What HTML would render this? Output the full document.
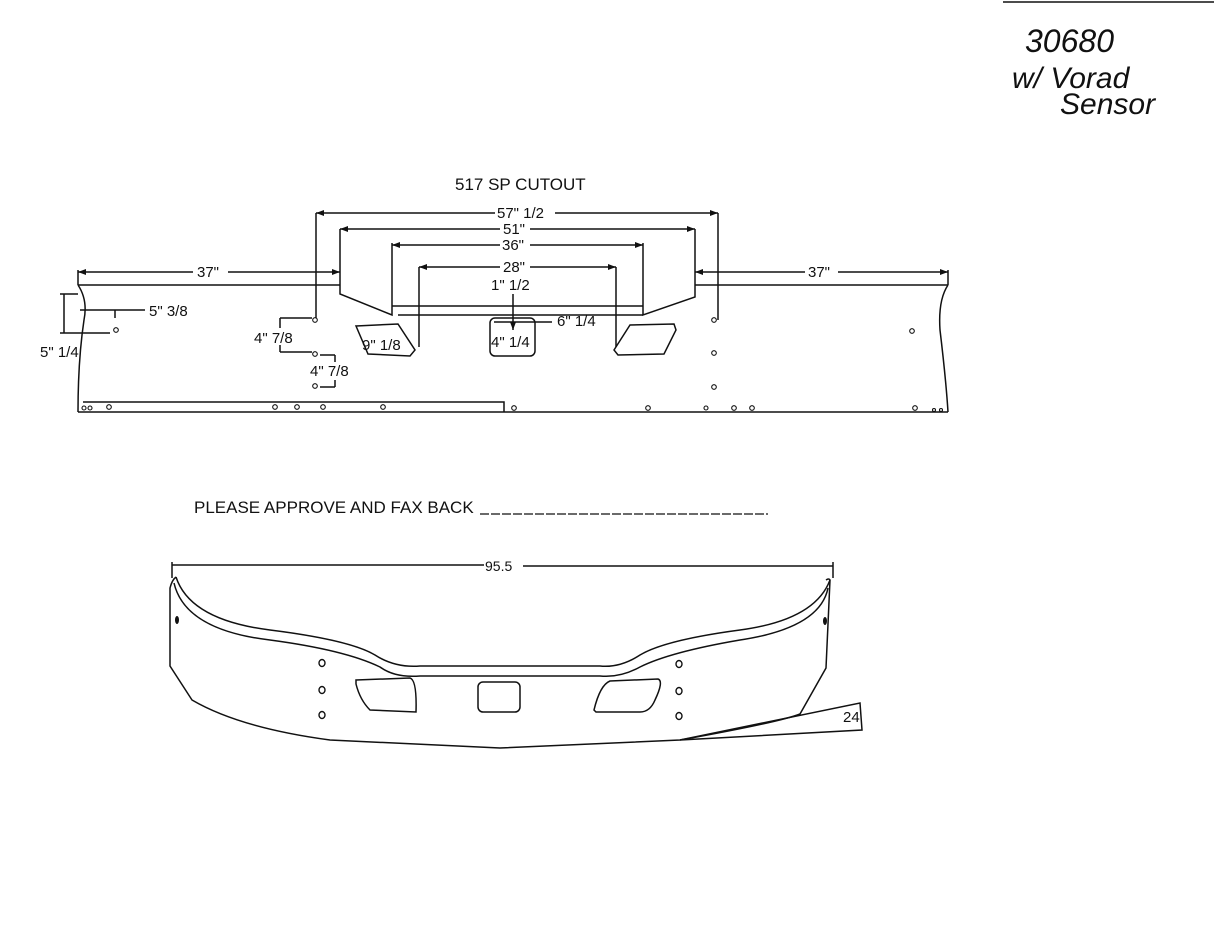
<!DOCTYPE html>
<html><head><meta charset="utf-8"><style>
body{margin:0;background:#fff;}
svg{display:block}
text{font-family:"Liberation Sans",sans-serif;fill:#111}
</style></head><body>
<svg width="1214" height="933" viewBox="0 0 1214 933" xmlns="http://www.w3.org/2000/svg">
<rect width="1214" height="933" fill="#fff"/>
<g stroke="#111" stroke-width="1.4" fill="none">
<line x1="1003" y1="2" x2="1214" y2="2"/>
</g>
<g font-family="Liberation Serif,serif" font-style="italic" font-size="30" fill="#222">
<text x="1025" y="52" style="font-size:32px">30680</text>
<text x="1012" y="88">w/ Vorad</text>
<text x="1060" y="114">Sensor</text>
</g>
<text x="455" y="190" font-size="17">517 SP CUTOUT</text>
<g stroke="#111" stroke-width="1.5" fill="none">
<polyline points="78,285 340,285"/>
<polyline points="695,285 948,285"/>
<polyline points="340,229 340,294 392,315 392,243"/>
<polyline points="643,243 643,315 695,297 695,229"/>
<line x1="392" y1="306" x2="643" y2="306"/>
<line x1="398" y1="315" x2="643" y2="315"/>
<path d="M78,285 Q88,300 84,320 Q78,360 78,412"/>
<path d="M948,285 Q938,300 940,330 Q946,380 948,412"/>
<line x1="78" y1="412" x2="948" y2="412"/>
<polyline points="83,402 504,402 504,412"/>
<line x1="316" y1="213" x2="316" y2="320"/>
<line x1="718" y1="213" x2="718" y2="320"/>
<line x1="419" y1="267" x2="419" y2="347"/>
<line x1="616" y1="267" x2="616" y2="347"/>
<line x1="316" y1="213" x2="495" y2="213"/><line x1="555" y1="213" x2="718" y2="213"/>
<line x1="340" y1="229" x2="500" y2="229"/><line x1="530" y1="229" x2="695" y2="229"/>
<line x1="392" y1="245" x2="500" y2="245"/><line x1="530" y1="245" x2="643" y2="245"/>
<line x1="419" y1="267" x2="500" y2="267"/><line x1="530" y1="267" x2="616" y2="267"/>
<line x1="78" y1="272" x2="193" y2="272"/><line x1="228" y1="272" x2="340" y2="272"/>
<line x1="695" y1="272" x2="805" y2="272"/><line x1="838" y1="272" x2="948" y2="272"/>
<line x1="78" y1="270" x2="78" y2="285"/><line x1="948" y1="270" x2="948" y2="285"/>
<line x1="64" y1="294" x2="64" y2="333"/><line x1="60" y1="294" x2="78" y2="294"/>
<line x1="60" y1="333" x2="110" y2="333"/>
<line x1="80" y1="310" x2="145" y2="310"/><line x1="115" y1="310" x2="115" y2="318"/>
<line x1="513" y1="294" x2="513" y2="330"/>
<line x1="494" y1="322" x2="552" y2="322"/>
<line x1="280" y1="318" x2="312" y2="318"/><line x1="280" y1="318" x2="280" y2="328"/>
<line x1="280" y1="352" x2="312" y2="352"/><line x1="280" y1="345" x2="280" y2="352"/>
<line x1="320" y1="355" x2="335" y2="355"/><line x1="335" y1="355" x2="335" y2="362"/>
<line x1="320" y1="387" x2="335" y2="387"/><line x1="335" y1="380" x2="335" y2="387"/>
<path d="M356,326 L398,324 L415,350 L410,356 L368,354 Z"/>
<rect x="490" y="318" width="45" height="38" rx="5"/>
<path d="M614,350 L630,325 L674,324 L676,330 L664,354 L618,355 Z"/>
</g>
<g fill="#111">
<polygon points="78,272 86,269 86,275"/><polygon points="340,272 332,269 332,275"/>
<polygon points="695,272 703,269 703,275"/><polygon points="948,272 940,269 940,275"/>
<polygon points="316,213 324,210 324,216"/><polygon points="718,213 710,210 710,216"/>
<polygon points="340,229 348,226 348,232"/><polygon points="695,229 687,226 687,232"/>
<polygon points="392,245 400,242 400,248"/><polygon points="643,245 635,242 635,248"/>
<polygon points="419,267 427,264 427,270"/><polygon points="616,267 608,264 608,270"/>
<polygon points="513,330 510,322 516,322"/>
</g>
<g font-size="15">
<text x="197" y="277">37"</text><text x="808" y="277">37"</text>
<text x="497" y="218">57" 1/2</text><text x="503" y="234">51"</text>
<text x="502" y="250">36"</text><text x="503" y="272">28"</text>
<text x="491" y="290">1" 1/2</text>
<text x="149" y="316">5" 3/8</text><text x="40" y="357">5" 1/4</text>
<text x="557" y="326">6" 1/4</text>
<text x="254" y="343">4" 7/8</text><text x="310" y="376">4" 7/8</text>
<text x="362" y="350">9" 1/8</text><text x="491" y="347">4" 1/4</text>
</g>
<g stroke="#111" stroke-width="1.1" fill="#fff">
<circle cx="116" cy="330" r="2.3"/><circle cx="315" cy="320" r="2.3"/><circle cx="315" cy="354" r="2.3"/><circle cx="315" cy="386" r="2.3"/>
<circle cx="714" cy="320" r="2.3"/><circle cx="714" cy="353" r="2.3"/><circle cx="714" cy="387" r="2.3"/><circle cx="912" cy="331" r="2.3"/>
<circle cx="84" cy="408" r="2"/><circle cx="90" cy="408" r="2"/><circle cx="109" cy="407" r="2.3"/><circle cx="275" cy="407" r="2.3"/><circle cx="297" cy="407" r="2.3"/><circle cx="323" cy="407" r="2.3"/><circle cx="383" cy="407" r="2.3"/><circle cx="514" cy="408" r="2.3"/><circle cx="648" cy="408" r="2.3"/><circle cx="706" cy="408" r="2"/><circle cx="734" cy="408" r="2.3"/><circle cx="752" cy="408" r="2.3"/><circle cx="915" cy="408" r="2.3"/><circle cx="934" cy="410" r="1.5"/><circle cx="941" cy="410" r="1.5"/>
</g>
<text x="194" y="513" font-size="17">PLEASE APPROVE AND FAX BACK</text>
<line x1="480" y1="514" x2="768" y2="514" stroke="#111" stroke-width="1.3" stroke-dasharray="9,2"/>
<g stroke="#111" stroke-width="1.5" fill="none">
<line x1="172" y1="565" x2="484" y2="565"/><line x1="523" y1="566" x2="833" y2="566"/>
<line x1="172" y1="562" x2="172" y2="578"/><line x1="833" y1="562" x2="833" y2="578"/>
<path d="M176,577 Q190,620 270,630 Q350,640 375,655 Q395,668 420,666 L600,666 Q620,668 640,655 Q665,640 740,630 Q815,620 830,580"/>
<path d="M174,583 Q185,630 270,640 Q345,650 380,667 Q395,678 420,676 L600,676 Q620,678 640,667 Q670,652 740,640 Q820,628 828,588"/>
<path d="M176,577 Q172,580 170,588 L170,666 L192,700 Q240,728 330,740 L500,748 L680,740 Q780,722 800,714 L826,668 L830,580 Q829,578 826,580"/>
<polyline points="680,740 860,703 862,730 680,740"/>
<path d="M356,680 L410,678 Q417,680 416,712 L370,710 Q360,700 356,684 Z"/>
<rect x="478" y="682" width="42" height="30" rx="5"/>
<path d="M594,710 Q600,685 610,681 L658,679 Q664,681 655,700 Q650,712 640,712 L596,712 Z"/>
</g>
<text x="485" y="571" font-size="14">95.5</text>
<text x="843" y="722" font-size="15">24</text>
<g stroke="#111" stroke-width="1.4" fill="#fff">
<ellipse cx="322" cy="663" rx="3" ry="3.5"/><ellipse cx="322" cy="690" rx="3" ry="3.5"/><ellipse cx="322" cy="715" rx="3" ry="3.5"/>
<ellipse cx="679" cy="664" rx="3" ry="3.5"/><ellipse cx="679" cy="691" rx="3" ry="3.5"/><ellipse cx="679" cy="716" rx="3" ry="3.5"/>
</g>
<ellipse cx="177" cy="620" rx="2" ry="4" fill="#111"/>
<ellipse cx="825" cy="621" rx="2" ry="4" fill="#111"/>
</svg>
</body></html>
